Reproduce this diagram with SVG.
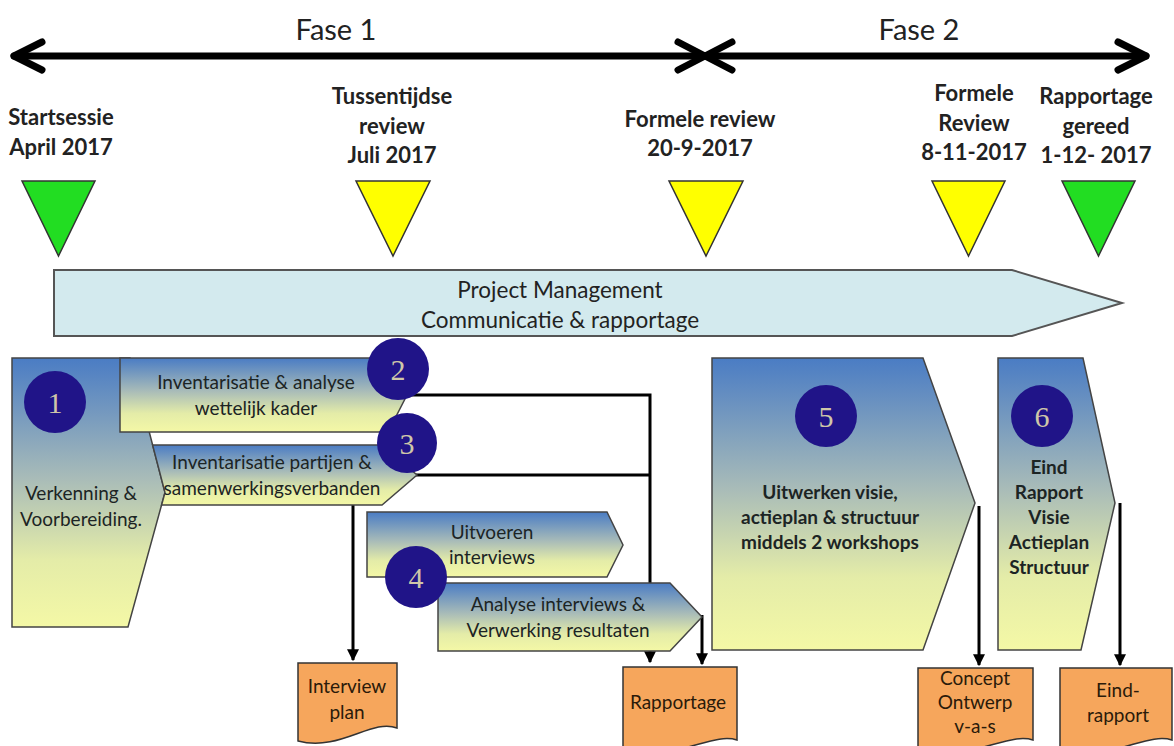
<svg xmlns="http://www.w3.org/2000/svg" width="1174" height="746" viewBox="0 0 1174 746">
  <style>
    .phase { font-family: Lato, "Open Sans", "Liberation Sans", sans-serif; font-size: 29px; fill: #222; text-anchor: middle; }
    .ms { font-family: Lato, "Open Sans", "Liberation Sans", sans-serif; font-size: 22px; font-weight: bold; fill: #222; text-anchor: middle; }
    .tri { stroke: #333; stroke-width: 1.5; }
    .green { fill: #22dd22; }
    .yellow { fill: #ffff00; }
    .pm { fill: #d3eaee; stroke: #555; stroke-width: 2; }
    .pmt { font-family: Lato, "Open Sans", "Liberation Sans", sans-serif; font-size: 22.5px; fill: #222; text-anchor: middle; }
    .step { fill: url(#stepGrad); stroke: #444; stroke-width: 1.5; }
    .st { font-family: Lato, "Open Sans", "Liberation Sans", sans-serif; font-size: 19px; fill: #1c2424; text-anchor: middle; }
    .stb { font-family: Lato, "Open Sans", "Liberation Sans", sans-serif; font-size: 19px; font-weight: bold; fill: #1c2424; text-anchor: middle; }
    .num { fill: #201488; }
    .numt { font-family: "Liberation Serif", serif; font-size: 30px; fill: #cfc7a8; text-anchor: middle; }
    .doc { fill: #f6a65c; stroke: #333; stroke-width: 1.5; }
    .dt { font-family: Lato, "Open Sans", "Liberation Sans", sans-serif; font-size: 19px; fill: #2a1a0a; text-anchor: middle; }
    .conn { fill: none; stroke: #000; stroke-width: 3; }
    .axis { fill: none; stroke: #000; stroke-width: 7; stroke-linecap: round; stroke-linejoin: round; }
  </style>
  <defs>
    <linearGradient id="stepGrad" x1="0" y1="0" x2="0" y2="1">
      <stop offset="0" stop-color="#4a7cc4"/>
      <stop offset="0.45" stop-color="#a9bcb8"/>
      <stop offset="0.75" stop-color="#e4eca8"/>
      <stop offset="1" stop-color="#f4f8a6"/>
    </linearGradient>
    <marker id="arr" viewBox="0 0 10 10" refX="9" refY="5" markerWidth="4" markerHeight="4" orient="auto" markerUnits="strokeWidth">
      <path d="M0,0 L10,5 L0,10 Z" fill="#000"/>
    </marker>
    <clipPath id="clip3">
      <polygon points="152.6,445 382,445 417,475 382,505 161.6,505 165,492.5"/>
    </clipPath>
  </defs>

  <!-- phase timeline -->
  <g id="timeline">
    <line class="axis" x1="14" y1="56" x2="1146" y2="56"/>
    <polyline class="axis" points="42,42 14,56 42,70"/>
    <polyline class="axis" points="678,42 705,56 678,70"/>
    <polyline class="axis" points="732,42 705,56 732,70"/>
    <polyline class="axis" points="1118,42 1146,56 1118,70"/>
    <text class="phase" x="336" y="40">Fase 1</text>
    <text class="phase" x="919" y="40">Fase 2</text>
  </g>

  <!-- milestones -->
  <g id="ms-start">
    <text class="ms" x="61" y="125">Startsessie</text>
    <text class="ms" x="61" y="155">April 2017</text>
    <polygon class="tri green" points="22,181 95,181 58.5,256"/>
  </g>
  <g id="ms-tussentijds">
    <text class="ms" x="392" y="104">Tussentijdse</text>
    <text class="ms" x="392" y="134">review</text>
    <text class="ms" x="392" y="163">Juli 2017</text>
    <polygon class="tri yellow" points="356,181 430,181 393,256"/>
  </g>
  <g id="ms-formeel1">
    <text class="ms" x="700" y="127">Formele review</text>
    <text class="ms" x="700" y="156">20-9-2017</text>
    <polygon class="tri yellow" points="669,181 743,181 706,256"/>
  </g>
  <g id="ms-formeel2">
    <text class="ms" x="974" y="101">Formele</text>
    <text class="ms" x="974" y="131">Review</text>
    <text class="ms" x="974" y="160">8-11-2017</text>
    <polygon class="tri yellow" points="932,181 1005,181 968.5,256"/>
  </g>
  <g id="ms-gereed">
    <text class="ms" x="1096" y="104">Rapportage</text>
    <text class="ms" x="1096" y="134">gereed</text>
    <text class="ms" x="1096" y="163">1-12- 2017</text>
    <polygon class="tri green" points="1062,181 1135,181 1098.5,256"/>
  </g>

  <!-- project management band -->
  <g id="project-management">
    <polygon class="pm" points="54,270 1012,270 1122,303 1012,336 54,336"/>
    <text class="pmt" x="560" y="298">Project Management</text>
    <text class="pmt" x="560" y="328">Communicatie &amp; rapportage</text>
  </g>

  <!-- connectors -->
  <g id="connectors">
    <polyline class="conn" points="405,395 650,395 650,662" marker-end="url(#arr)"/>
    <line class="conn" x1="413" y1="475" x2="650" y2="475"/>
    <line class="conn" x1="353" y1="505" x2="353" y2="660" marker-end="url(#arr)"/>
    <line class="conn" x1="702" y1="615" x2="702" y2="664" marker-end="url(#arr)"/>
    <line class="conn" x1="979" y1="506" x2="979" y2="665" marker-end="url(#arr)"/>
    <line class="conn" x1="1120" y1="503" x2="1120" y2="665" marker-end="url(#arr)"/>
  </g>

  <!-- step 1 -->
  <g id="step-1">
    <polygon class="step" points="12,358 130,358 165,492.5 128,627 12,627"/>
    <circle class="num" cx="55" cy="402" r="31"/>
    <text class="numt" x="55" y="413">1</text>
    <text class="st" x="81" y="500">Verkenning &amp;</text>
    <text class="st" x="81" y="526">Voorbereiding.</text>
  </g>

  <!-- step 2 -->
  <g id="step-2">
    <polygon class="step" points="120,358 388,358 407,395 388,432 120,432"/>
    <text class="st" x="256" y="389">Inventarisatie &amp; analyse</text>
    <text class="st" x="256" y="415">wettelijk kader</text>
    <circle class="num" cx="398" cy="369" r="31"/>
    <text class="numt" x="398" y="380">2</text>
  </g>

  <!-- step 3 -->
  <g id="step-3">
    <polygon class="step" points="152.6,445 382,445 417,475 382,505 161.6,505 165,492.5"/>
    <g clip-path="url(#clip3)">
      <text class="st" x="272" y="469">Inventarisatie partijen &amp;</text>
      <text class="st" x="272" y="495">samenwerkingsverbanden</text>
    </g>
    <circle class="num" cx="407" cy="443" r="30"/>
    <text class="numt" x="407" y="454">3</text>
  </g>

  <!-- step 4a -->
  <g id="step-4a">
    <polygon class="step" points="367,512 607,512 623,545 607,577 367,577"/>
    <text class="st" x="492" y="539">Uitvoeren</text>
    <text class="st" x="492" y="564">interviews</text>
  </g>

  <!-- step 4b -->
  <g id="step-4b">
    <polygon class="step" points="438,583 670,583 702,617 670,651 438,651"/>
    <text class="st" x="558" y="611">Analyse interviews &amp;</text>
    <text class="st" x="558" y="637">Verwerking resultaten</text>
    <circle class="num" cx="416" cy="577" r="31"/>
    <text class="numt" x="416" y="588">4</text>
  </g>

  <!-- step 5 -->
  <g id="step-5">
    <polygon class="step" points="712,358 923,358 975,503 923,650 712,650"/>
    <circle class="num" cx="826" cy="416" r="31"/>
    <text class="numt" x="826" y="427">5</text>
    <text class="stb" x="830" y="499">Uitwerken  visie,</text>
    <text class="stb" x="830" y="524">actieplan &amp; structuur</text>
    <text class="stb" x="830" y="549">middels 2 workshops</text>
  </g>

  <!-- step 6 -->
  <g id="step-6">
    <polygon class="step" points="998,358 1083,358 1115,503 1081,650 998,650"/>
    <circle class="num" cx="1042" cy="416" r="31"/>
    <text class="numt" x="1042" y="427">6</text>
    <text class="stb" x="1049" y="474">Eind</text>
    <text class="stb" x="1049" y="499">Rapport</text>
    <text class="stb" x="1049" y="524">Visie</text>
    <text class="stb" x="1049" y="549">Actieplan</text>
    <text class="stb" x="1049" y="574">Structuur</text>
  </g>

  <!-- deliverables -->
  <g id="doc-interviewplan">
    <path class="doc" d="M298,663 H397 V728 C372,718 340,752 298,741 Z"/>
    <text class="dt" x="347" y="693">Interview</text>
    <text class="dt" x="347" y="719">plan</text>
  </g>
  <g id="doc-rapportage">
    <path class="doc" d="M623,667 H737 V740 C712,732 680,760 623,752 Z"/>
    <text class="dt" x="678" y="709">Rapportage</text>
  </g>
  <g id="doc-concept">
    <path class="doc" d="M918,668 H1033 V740 C1008,732 975,760 918,752 Z"/>
    <text class="dt" x="975" y="685">Concept</text>
    <text class="dt" x="975" y="709">Ontwerp</text>
    <text class="dt" x="975" y="733">v-a-s</text>
  </g>
  <g id="doc-eindrapport">
    <path class="doc" d="M1060,668 H1172 V740 C1147,732 1115,760 1060,752 Z"/>
    <text class="dt" x="1118" y="697">Eind-</text>
    <text class="dt" x="1118" y="722">rapport</text>
  </g>
</svg>
